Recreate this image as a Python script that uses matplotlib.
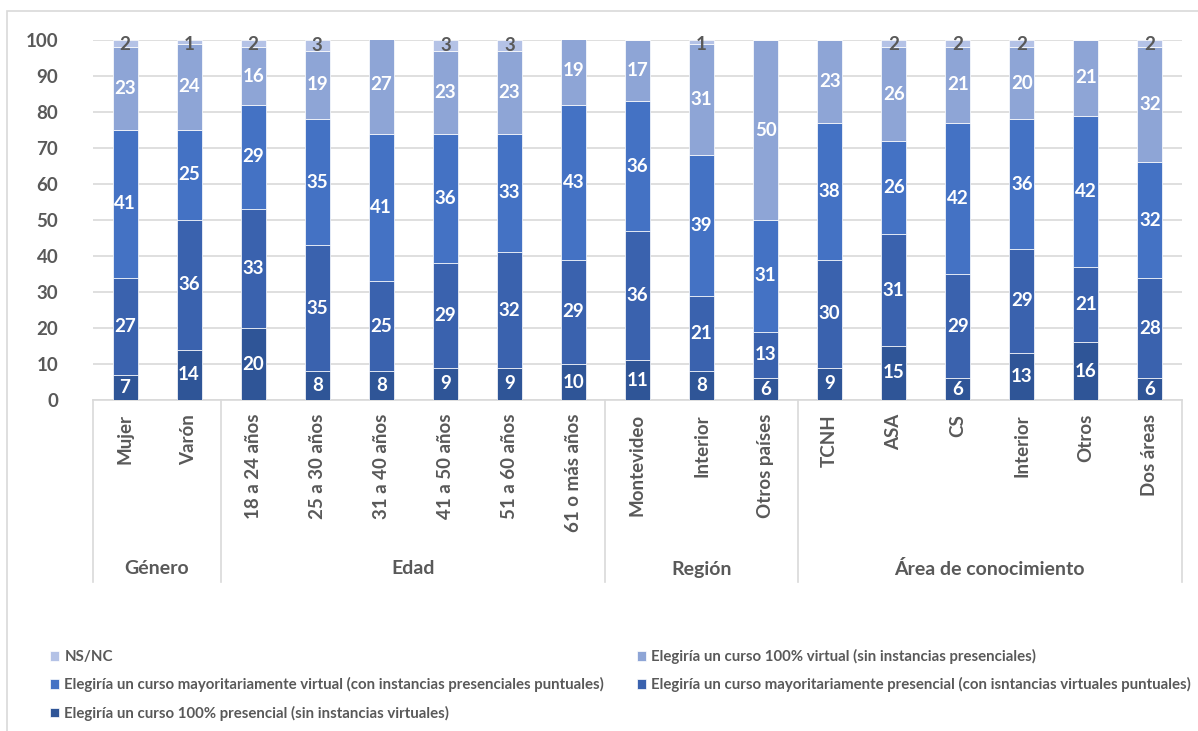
import matplotlib
matplotlib.use('Agg')
import matplotlib.pyplot as plt
import numpy as np
from matplotlib.patches import Rectangle
from matplotlib.lines import Line2D
import matplotlib.transforms as mtransforms

plt.rcParams['font.family'] = ['Lato', 'DejaVu Sans']
plt.rcParams['font.weight'] = 'bold'

categories = ['Mujer', 'Varón', '18 a 24 años', '25 a 30 años', '31 a 40 años',
              '41 a 50 años', '51 a 60 años', '61 o más años', 'Montevideo',
              'Interior', 'Otros países', 'TCNH', 'ASA', 'CS', 'Interior',
              'Otros', 'Dos áreas']
groups = ['Género', 'Edad', 'Región', 'Área de conocimiento']
group_sizes = [2, 6, 3, 6]

presencial_100 = [7, 14, 20, 8, 8, 9, 9, 10, 11, 8, 6, 9, 15, 6, 13, 16, 6]
may_presencial = [27, 36, 33, 35, 25, 29, 32, 29, 36, 21, 13, 30, 31, 29, 29, 21, 28]
may_virtual = [41, 25, 29, 35, 41, 36, 33, 43, 36, 39, 31, 38, 26, 42, 36, 42, 32]
virtual_100 = [23, 24, 16, 19, 27, 23, 23, 19, 17, 31, 50, 23, 26, 21, 20, 21, 32]
ns_nc = [2, 1, 2, 3, 0, 3, 3, 0, 0, 1, 0, 0, 2, 2, 2, 0, 2]

series = [
    ('Elegiría un curso 100% presencial (sin instancias virtuales)', presencial_100, '#2f5597'),
    ('Elegiría un curso mayoritariamente presencial (con isntancias virtuales puntuales)', may_presencial, '#3a62ae'),
    ('Elegiría un curso mayoritariamente virtual (con instancias presenciales puntuales)', may_virtual, '#4472c4'),
    ('Elegiría un curso 100% virtual (sin instancias presenciales)', virtual_100, '#8ea5d6'),
    ('NS/NC', ns_nc, '#b4c2e6'),
]

grey = '#595959'
W, H = 1198, 731
fig = plt.figure(figsize=(W / 100, H / 100), dpi=100)

# chart area border (only left/top visible in reference)
fig.patches.append(Rectangle((7 / W, -0.1), 1.2, 1 - 11 / H + 0.1, transform=fig.transFigure,
                             fill=False, edgecolor='#d9d9d9', lw=1.2))

ax = fig.add_axes([93 / W, 1 - 400 / H, (1182 - 93) / W, 360 / H])

x = np.arange(len(categories))
bottom = np.zeros(len(categories))
handles = {}
for name, vals, col in series:
    vals = np.array(vals, dtype=float)
    bars = ax.bar(x, vals, 0.39, bottom=bottom, color=col, edgecolor='white',
                  linewidth=0.5, zorder=3, label=name)
    handles[name] = bars
    tcol = grey if name == 'NS/NC' else 'white'
    for xi, b, v in zip(x, bottom, vals):
        if v > 0:
            ax.text(xi, min(b + v / 2, 98.8), '%d' % v, ha='center', va='center',
                    color=tcol, fontsize=13.5, fontweight='bold', zorder=5)
    bottom += vals

ax.set_ylim(0, 100)
ax.set_xlim(-0.5, len(categories) - 0.5)
ax.set_yticks(np.arange(0, 101, 10))
ax.yaxis.grid(True, color='#d9d9d9', lw=1.2, zorder=0)
ax.tick_params(axis='y', length=0, pad=25, labelsize=13.5, labelcolor=grey)
for t in ax.get_yticklabels():
    t.set_fontweight('bold')
ax.set_xticks(x)
ax.set_xticklabels(categories, rotation=90, va='top', ha='center',
                   fontsize=13.5, color=grey, fontweight='bold')
ax.tick_params(axis='x', length=0, pad=10)
for s in ['top', 'right', 'left']:
    ax.spines[s].set_visible(False)
ax.spines['bottom'].set_color('#d9d9d9')
ax.spines['bottom'].set_linewidth(1.2)

# group separators and labels
trans = mtransforms.blended_transform_factory(ax.transData, ax.transAxes)
y_low = -(582 - 400) / 360
edges = np.concatenate([[0], np.cumsum(group_sizes)]) - 0.5
for e in edges:
    ax.add_line(Line2D([e, e], [0, y_low], transform=trans, color='#d9d9d9',
                       lw=1.2, clip_on=False))
for g, a, b in zip(groups, edges[:-1], edges[1:]):
    ax.text((a + b) / 2, -(569 - 400) / 360, g, transform=trans, ha='center',
            va='center', fontsize=14, color=grey, fontweight='bold')

# legend, laid out row by row like the reference
order = ['NS/NC',
         'Elegiría un curso mayoritariamente virtual (con instancias presenciales puntuales)',
         'Elegiría un curso 100% presencial (sin instancias virtuales)',
         'Elegiría un curso 100% virtual (sin instancias presenciales)',
         'Elegiría un curso mayoritariamente presencial (con isntancias virtuales puntuales)']
leg = fig.legend([handles[k] for k in order], order, loc='upper left',
                 bbox_to_anchor=(44 / W, 1 - 643 / H), ncol=2, frameon=False,
                 fontsize=10.8, handlelength=0.6, handleheight=0.6,
                 handletextpad=0.35, columnspacing=2.2, labelspacing=0.88,
                 labelcolor=grey, borderaxespad=0)
for t in leg.get_texts():
    t.set_fontweight('bold')

fig.savefig('out.png', dpi=100)
